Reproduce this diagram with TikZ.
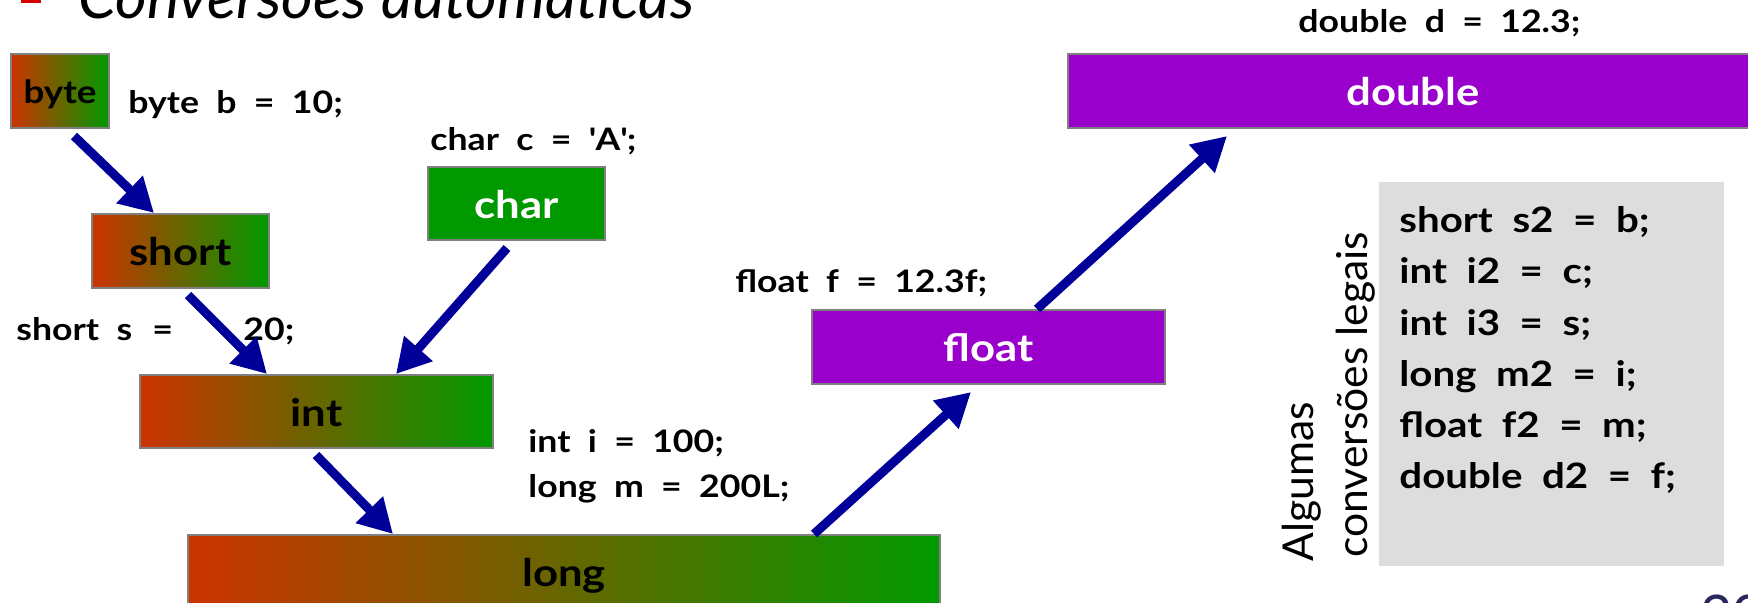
\documentclass[tikz,border=0pt]{standalone}
\usepackage{fontspec}
\setmainfont{Lato}
\newfontfamily\gillish{Lato}[FakeStretch=1.15, WordSpace=2]
\usetikzlibrary{arrows.meta,calc}

\definecolor{gradL}{RGB}{204,51,0}
\definecolor{gradM}{RGB}{134,112,0}
\definecolor{gradR}{RGB}{0,153,0}
\definecolor{charGreen}{RGB}{0,153,0}
\definecolor{typePurple}{RGB}{153,0,204}
\definecolor{arrowBlue}{RGB}{0,0,153}
\definecolor{panelGray}{RGB}{221,221,221}
\definecolor{boxGray}{RGB}{128,128,128}
\definecolor{bulletRed}{RGB}{210,0,0}
\definecolor{pageNum}{RGB}{40,40,95}

\tikzset{
  typebox/.style={draw=boxGray, line width=1pt, inner sep=0pt, anchor=north west,
    text height=14.5pt, text depth=0pt, font=\gillish\bfseries\fontsize{19}{20}\selectfont},
  gradbox/.style={typebox, left color=gradL, middle color=gradM, right color=gradR, text=black},
  greenbox/.style={typebox, fill=charGreen, text=white},
  purplebox/.style={typebox, fill=typePurple, text=white},
  decl/.style={anchor=base west, inner sep=0pt, font=\gillish\bfseries\fontsize{15.5}{18}\selectfont},
  codeline/.style={anchor=base west, inner sep=0pt, font=\gillish\bfseries\fontsize{17.5}{20}\selectfont},
  sidenote/.style={rotate=90, anchor=base west, inner sep=0pt, font=\fontsize{21.3}{24}\selectfont},
  conv/.style={draw=arrowBlue, line width=4.5pt, -{Triangle[length=17pt,width=18pt]}}
}

\begin{document}
\begin{tikzpicture}[x=0.5pt, y=-0.5pt]
\useasboundingbox (0,0) rectangle (1748,602);
\clip (0,0) rectangle (1748,602);

% heading
\fill[bulletRed] (21,-3) rectangle (41,3);
\node[anchor=base west, inner sep=0pt, font=\itshape\fontsize{30.5}{32}\selectfont] (title) at (78,18) {Conversões automáticas};

% primitive type boxes
\node[gradbox, minimum width=49pt, minimum height=37pt, text height=12pt,
      font=\gillish\bfseries\fontsize{16}{18}\selectfont] (byte) at (10,53) {byte};
\node[gradbox, minimum width=88.5pt, minimum height=37pt] (short) at (91,213) {short};
\node[greenbox, minimum width=88.5pt, minimum height=36.5pt] (char) at (427,166) {char};
\node[gradbox, minimum width=176.5pt, minimum height=36.5pt] (int) at (139,374) {int};
\node[gradbox, minimum width=376pt, minimum height=37pt] (long) at (187,534) {long};
\node[purplebox, minimum width=176.5pt, minimum height=37pt] (float) at (811,309) {float};
\node[purplebox, minimum width=345pt, minimum height=37pt] (double) at (1067,53) {double};

% declarations
\node[decl] (dbyte) at (128,113) {byte b = 10;};
\node[decl] (dchar) at (430,150) {char c = \textquotesingle A\textquotesingle;};
\node[decl] (dshort) at (16,340) {\makebox[68pt][l]{short s}\makebox[45.5pt][l]{=}20;};
\node[decl] (dint) at (528,452) {int i = 100;};
\node[decl] (dlong) at (528,497) {long m = 200L;};
\node[decl] (dfloat) at (735,292) {float f = 12.3f;};
\node[decl] (ddouble) at (1298,32) {double d = 12.3;};

% widening conversions
\draw[conv] ($(byte.south west)+(64,7)$) -- ($(short.north west)+(63,0)$);
\draw[conv] ($(short.south west)+(97,6)$) -- ($(int.north west)+(128,0)$);
\draw[conv] ($(char.south west)+(80,7)$) -- ($(int.north west)+(257,0)$);
\draw[conv] ($(int.south west)+(177,6)$) -- ($(long.north west)+(206,0)$);
\draw[conv] ($(long.north west)+(627,0)$) -- ($(float.south west)+(160,7)$);
\draw[conv] ($(float.north west)+(226,0)$) -- ($(double.south west)+(160,7)$);

% panel of legal assignments
\node[fill=panelGray, inner sep=0pt, anchor=north west, minimum width=172.5pt, minimum height=192pt] (panel) at (1379,182) {};
\node[codeline] (c1) at (1399,232) {short s2 = b;};
\node[codeline] (c2) at (1399,283) {int i2 = c;};
\node[codeline] (c3) at (1399,335) {int i3 = s;};
\node[codeline] (c4) at (1399,386) {long m2 = i;};
\node[codeline] (c5) at (1399,437) {float f2 = m;};
\node[codeline] (c6) at (1399,488) {double d2 = f;};

\node[sidenote] (note1) at (1313,562) {Algumas};
\node[sidenote] (note2) at (1367,558) {conversões legais};

% page number
\node[anchor=base west, inner sep=0pt, text=pageNum, font=\fontsize{28}{30}\selectfont] (pnum) at (1700,635) {20};
\end{tikzpicture}
\end{document}
